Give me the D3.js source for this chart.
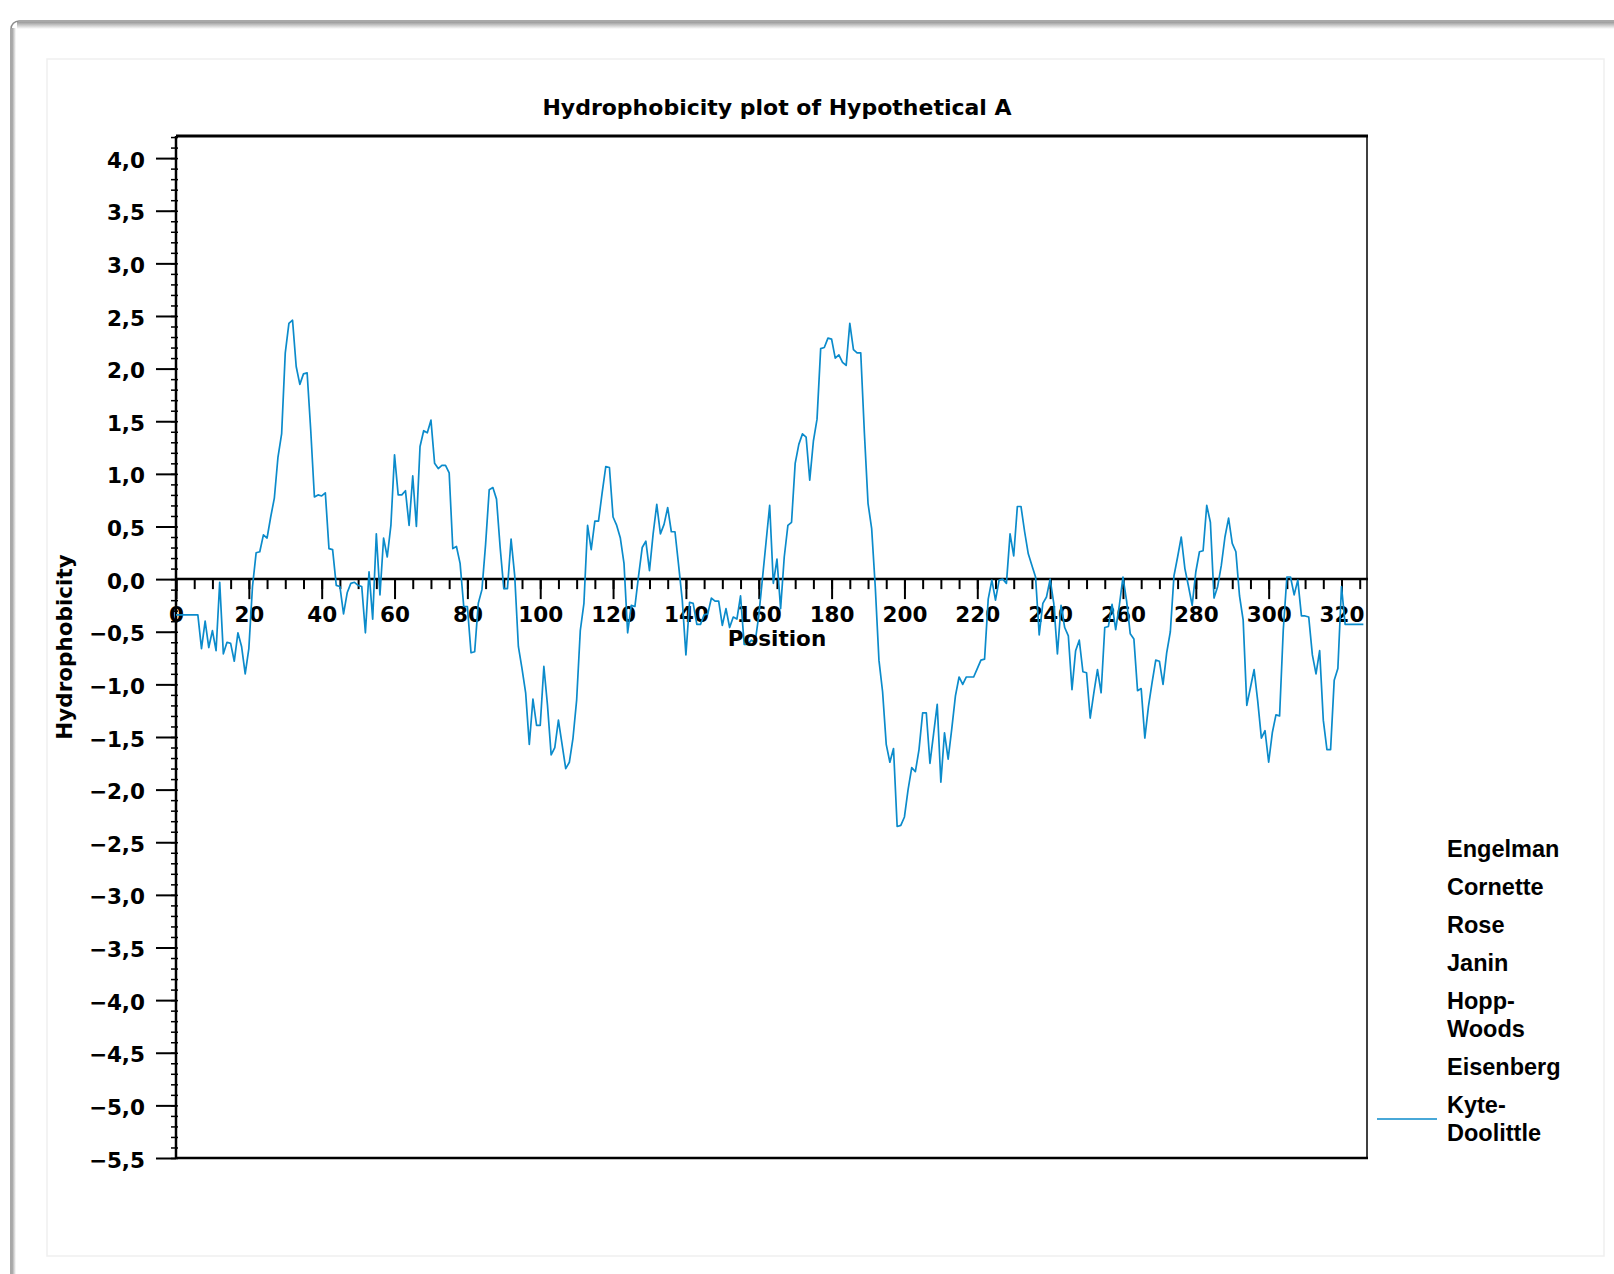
<!DOCTYPE html>
<html>
	<head>
		<title>Hydrophobicity plot</title>
		<meta charset="utf-8">
		<style>
		body {
			margin: 0;
			background: #fff;
		}
		svg text {
			font-family: "DejaVu Sans", sans-serif;
			font-weight: bold;
			fill: #000;
		}
		.legend text {
			font-family: "Liberation Sans", Arial, sans-serif;
			font-size: 23.5px;
		}
		</style>
		<script src="https://d3js.org/d3.v7.min.js"></script>
	</head>
	<body>
		<svg id="chart" width="1614" height="1274"></svg>
		<script>
		// Kyte-Doolittle value for each position, 0 .. 326
		const kyteDoolittle = [
			-0.34, -0.34, -0.34, -0.34, -0.34, -0.34, -0.34, -0.66, -0.40, -0.65,
			-0.49, -0.68, -0.03, -0.71, -0.60, -0.61, -0.78, -0.51, -0.64, -0.90,
			-0.66, -0.07, 0.25, 0.26, 0.42, 0.39, 0.59, 0.77, 1.16, 1.38,
			2.15, 2.43, 2.46, 2.02, 1.85, 1.95, 1.96, 1.41, 0.78, 0.80,
			0.79, 0.82, 0.29, 0.28, -0.06, -0.07, -0.33, -0.13, -0.04, -0.03,
			-0.06, -0.07, -0.51, 0.07, -0.38, 0.43, -0.15, 0.39, 0.21, 0.51,
			1.18, 0.80, 0.80, 0.84, 0.51, 0.98, 0.50, 1.26, 1.41, 1.39,
			1.51, 1.10, 1.05, 1.08, 1.08, 1.01, 0.29, 0.31, 0.15, -0.26,
			-0.26, -0.70, -0.69, -0.23, -0.10, 0.33, 0.85, 0.87, 0.76, 0.30,
			-0.09, -0.09, 0.38, 0.03, -0.64, -0.85, -1.08, -1.57, -1.14, -1.39,
			-1.39, -0.83, -1.20, -1.67, -1.60, -1.34, -1.57, -1.80, -1.74, -1.51,
			-1.15, -0.49, -0.23, 0.51, 0.28, 0.55, 0.55, 0.82, 1.07, 1.06,
			0.59, 0.51, 0.39, 0.15, -0.51, -0.25, -0.26, 0.03, 0.30, 0.36,
			0.08, 0.43, 0.71, 0.43, 0.52, 0.68, 0.45, 0.45, 0.13, -0.20,
			-0.72, -0.22, -0.23, -0.43, -0.43, -0.34, -0.33, -0.18, -0.21, -0.21,
			-0.44, -0.28, -0.46, -0.36, -0.38, -0.16, -0.62, -0.62, -0.58, -0.60,
			-0.35, 0.00, 0.35, 0.70, -0.04, 0.19, -0.28, 0.21, 0.51, 0.54,
			1.10, 1.28, 1.38, 1.35, 0.94, 1.31, 1.52, 2.19, 2.20, 2.29,
			2.28, 2.10, 2.13, 2.06, 2.03, 2.43, 2.18, 2.15, 2.15, 1.39,
			0.72, 0.48, -0.08, -0.77, -1.07, -1.57, -1.74, -1.61, -2.35, -2.34,
			-2.26, -2.00, -1.79, -1.83, -1.62, -1.27, -1.27, -1.75, -1.47, -1.19,
			-1.93, -1.46, -1.71, -1.42, -1.11, -0.93, -1.00, -0.93, -0.93, -0.93,
			-0.85, -0.77, -0.76, -0.19, -0.01, -0.20, -0.01, 0.00, -0.04, 0.43,
			0.22, 0.69, 0.69, 0.45, 0.24, 0.13, 0.02, -0.53, -0.23, -0.17,
			0.00, -0.23, -0.71, -0.25, -0.46, -0.54, -1.05, -0.68, -0.58, -0.88,
			-0.89, -1.32, -1.08, -0.86, -1.08, -0.46, -0.45, -0.24, -0.48, -0.25,
			0.02, -0.21, -0.52, -0.57, -1.06, -1.04, -1.51, -1.21, -0.98, -0.77,
			-0.78, -1.00, -0.70, -0.50, 0.03, 0.21, 0.40, 0.10, -0.07, -0.25,
			0.07, 0.26, 0.27, 0.70, 0.54, -0.18, -0.07, 0.13, 0.40, 0.58,
			0.34, 0.26, -0.16, -0.39, -1.20, -1.03, -0.86, -1.16, -1.51, -1.44,
			-1.74, -1.46, -1.29, -1.30, -0.49, 0.02, 0.02, -0.15, -0.01, -0.35,
			-0.35, -0.36, -0.72, -0.90, -0.68, -1.34, -1.62, -1.62, -0.96, -0.85,
			-0.07, -0.43, -0.43, -0.43, -0.43, -0.43, -0.43
		];

		// tick labels
		const xMajorTicks = [0, 20, 40, 60, 80, 100, 120, 140, 160, 180, 200, 220, 240, 260, 280, 300, 320];
		const yMajorTicks = [4.0, 3.5, 3.0, 2.5, 2.0, 1.5, 1.0, 0.5, 0.0, -0.5, -1.0, -1.5, -2.0, -2.5, -3.0, -3.5, -4.0, -4.5, -5.0, -5.5];

		// legend entries (only Kyte-Doolittle has data)
		const legendLabels = [["Engelman"], ["Cornette"], ["Rose"], ["Janin"], ["Hopp-", "Woods"], ["Eisenberg"], ["Kyte-", "Doolittle"]];
		const legendWithLine = ["Kyte-Doolittle"];

		const lineColour = "#0b8bcb";

		const svg = d3.select("#chart");

		// outer window frame with a soft shadow along the top and left edge
		const defs = svg.append("defs");
		const topShade = defs.append("linearGradient").attr("id", "topShade").attr("x1", 0).attr("y1", 0).attr("x2", 0).attr("y2", 1);
		topShade.append("stop").attr("offset", "0%").attr("stop-color", "#9a9a9a");
		topShade.append("stop").attr("offset", "100%").attr("stop-color", "#ffffff");
		const leftShade = defs.append("linearGradient").attr("id", "leftShade").attr("x1", 0).attr("y1", 0).attr("x2", 1).attr("y2", 0);
		leftShade.append("stop").attr("offset", "0%").attr("stop-color", "#a0a0a0");
		leftShade.append("stop").attr("offset", "100%").attr("stop-color", "#ffffff");

		svg.append("rect")
			.attr("x", 11).attr("y", 21)
			.attr("width", 1640).attr("height", 1300)
			.attr("rx", 8)
			.attr("fill", "#fff")
			.attr("stroke", "#8c8c8c")
			.attr("stroke-width", 1.5);
		svg.append("rect").attr("x", 17).attr("y", 22).attr("width", 1600).attr("height", 7).attr("fill", "url(#topShade)");
		svg.append("rect").attr("x", 12).attr("y", 28).attr("width", 4).attr("height", 1250).attr("fill", "url(#leftShade)");

		// inner panel
		svg.append("rect")
			.attr("x", 47).attr("y", 59)
			.attr("width", 1557).attr("height", 1197)
			.attr("fill", "#fff")
			.attr("stroke", "#efefef")
			.attr("stroke-width", 1.5);

		// plot area
		const plot = {left: 176, right: 1367, top: 136, bottom: 1158};

		const x = d3.scaleLinear().domain([0, 327]).range([plot.left, plot.right]);
		const y = d3.scaleLinear().domain([-5.5, 4.21]).range([plot.bottom, plot.top]);

		// decimal comma labels
		const locale = d3.formatLocale({decimal: ",", thousands: ".", grouping: [3], currency: ["", ""], minus: "\u2212"});
		const fmt = locale.format(".1f");

		// frame
		svg.append("line").attr("x1", plot.left).attr("x2", plot.right + 1).attr("y1", plot.top).attr("y2", plot.top)
			.attr("stroke", "#000").attr("stroke-width", 3);
		svg.append("line").attr("x1", plot.right).attr("x2", plot.right).attr("y1", plot.top).attr("y2", plot.bottom)
			.attr("stroke", "#000").attr("stroke-width", 1.5);
		svg.append("line").attr("x1", plot.left).attr("x2", plot.right + 1).attr("y1", plot.bottom).attr("y2", plot.bottom)
			.attr("stroke", "#000").attr("stroke-width", 2.5);

		// y axis: minor ticks every 0.1
		const yMinor = svg.append("g")
			.attr("transform", "translate(" + (plot.left + 2) + ",0)")
			.call(d3.axisLeft(y).tickValues(d3.range(-55, 43).map(d => d / 10)).tickSize(7).tickFormat(""));
		yMinor.select(".domain").remove();
		yMinor.selectAll("line").attr("stroke-width", 1.5);

		// y axis: major ticks with labels
		const yAxis = svg.append("g")
			.attr("transform", "translate(" + plot.left + ",0)")
			.call(d3.axisLeft(y).tickValues(yMajorTicks).tickSize(20).tickPadding(11).tickFormat(fmt));
		yAxis.select(".domain").attr("stroke-width", 2.5).attr("d", "M0," + plot.top + "V" + plot.bottom);
		yAxis.selectAll("line").attr("stroke-width", 2);
		yAxis.selectAll("text")
			.attr("dy", "0.42em")
			.style("font-size", "21.5px")
			.style("font-family", "\"DejaVu Sans\", sans-serif");

		// x axis sits on the zero line
		const zeroY = y(0);
		const xMinor = svg.append("g")
			.attr("transform", "translate(0," + zeroY + ")")
			.call(d3.axisBottom(x).tickValues(d3.range(0, 330, 5)).tickSize(10).tickFormat(""));
		xMinor.select(".domain").remove();
		xMinor.selectAll("line").attr("stroke-width", 2);

		const xAxis = svg.append("g")
			.attr("transform", "translate(0," + zeroY + ")")
			.call(d3.axisBottom(x).tickValues(xMajorTicks).tickSize(20).tickPadding(8).tickFormat(d3.format("d")));
		xAxis.select(".domain").attr("stroke-width", 2.5).attr("d", "M" + plot.left + ",0H" + (plot.right + 1));
		xAxis.selectAll("line").attr("stroke-width", 2);
		xAxis.selectAll("text").style("font-size", "21.5px").style("font-family", "\"DejaVu Sans\", sans-serif");

		// the data line
		const line = d3.line()
			.x((d, i) => x(i))
			.y(d => y(d));

		svg.append("path")
			.datum(kyteDoolittle)
			.attr("d", line)
			.attr("fill", "none")
			.attr("stroke", lineColour)
			.attr("stroke-width", 1.7)
			.attr("stroke-linejoin", "round");

		// titles
		svg.append("text")
			.attr("x", 777).attr("y", 115)
			.attr("text-anchor", "middle")
			.style("font-size", "22px")
			.text("Hydrophobicity plot of Hypothetical A");

		svg.append("text")
			.attr("x", 777).attr("y", 646)
			.attr("text-anchor", "middle")
			.style("font-size", "21.5px")
			.text("Position");

		svg.append("text")
			.attr("transform", "translate(72," + ((plot.top + plot.bottom) / 2) + ") rotate(-90)")
			.attr("text-anchor", "middle")
			.style("font-size", "21.5px")
			.text("Hydrophobicity");

		// legend
		const legend = svg.append("g").attr("class", "legend");
		let ly = 849;
		legendLabels.forEach(function(lines) {
			const first = ly;
			lines.forEach(function(t, k) {
				legend.append("text")
					.attr("x", 1447)
					.attr("y", ly)
					.attr("dy", "0.35em")
					.text(t);
				if (k < lines.length - 1) ly += 28;
			});
			const name = lines.join("").replace("--", "-");
			if (legendWithLine.indexOf(name) >= 0) {
				legend.append("line")
					.attr("x1", 1377).attr("x2", 1437)
					.attr("y1", (first + ly) / 2).attr("y2", (first + ly) / 2)
					.attr("stroke", lineColour)
					.attr("stroke-width", 1.6);
			}
			ly += 38;
		});
		</script>
	</body>
</html>
